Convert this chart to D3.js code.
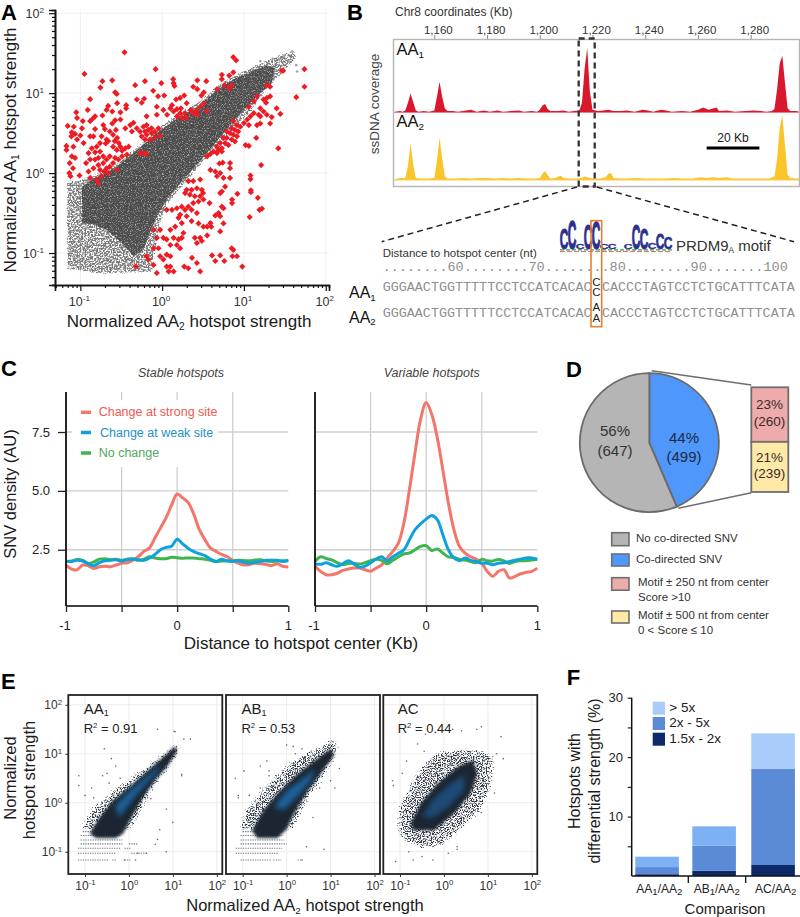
<!DOCTYPE html>
<html><head><meta charset="utf-8">
<script src="https://cdn.jsdelivr.net/npm/d3@7/dist/d3.min.js"></script>
<style>html,body{margin:0;padding:0;background:#fff}svg{display:block}text{font-family:"Liberation Sans",Arial,sans-serif}</style>
</head><body><svg id="chart" width="800" height="917"></svg>
<script>
// ---------- Panel A (log10 strengths)
const panelARedLog = [[-.46,1.51],[-.95,1.24],[-.08,1.30],[-.73,1.15],[-.61,1.16],[-.755,1.07],[-.21,1.15],[-.33,1.10],[-.01,1.125],[.135,1.175],[.14,1.125],[.15,1.09],[.43,1.16],[.54,1.15],[.38,1.08],[.43,1.05],[.51,1.01],[.48,.97],[-.11,1.03],[-.575,1.01],[-.555,.99],[-.88,.925],[-.22,.93],[-.31,.92],[-.25,.88],[-.05,.96],[.025,.97],[.27,.97],[.22,.94],[.17,.92],[.12,.85],[.10,.81],[.18,.8],[.23,.81],[.3,.875],[.35,.79],[.42,.78],[-.065,.83],
[-1.05,.76],[-1.04,.69],[-.91,.79],[-.66,.84],[-.55,.875],[-.44,.85],[-.44,.81],[-.68,.79],[-.73,.72],[-.82,.71],[-.85,.68],[-.88,.65],[-.51,.76],[-.61,.77],[-.575,.66],[-.61,.62],[-.51,.67],[-1.155,.59],[-1.08,.58],[-.97,.65],[-.98,.56],[-1.105,.51],[-1.065,.49],[-1.11,.46],[-1.0,.47],[-1.04,.42],[-1.17,.34],[-1.17,.29],[-1.085,.33],[-1.105,.21],[-1.065,.19],[-1.13,.125],[-1.09,.06],[-1.135,0],[-1.12,-.04],[-1.01,-.03],
[-.96,.375],[-.88,.46],[-.82,.55],[-.72,.6],[-.70,.55],[-.84,.46],[-.74,.46],[-.68,.42],[-.8,.33],[-.76,.375],[-.69,.37],[-.66,.4],[-.86,.31],[-.9,.25],[-.82,.26],[-.76,.27],[-.6,.48],[-.55,.44],[-.58,.4],[-.53,.375],[-.51,.33],[-.6,.33],[-.555,.29],[-.49,.28],[-.45,.31],[-.41,.33],[-.64,.52],[-.565,.54],[-.45,.56],[-.39,.6],[-.35,.63],[-.37,.52],[-.31,.56],[-.27,.52],[-.23,.58],[-.19,.6],[-.21,.52],[-.17,.54],[-.13,.56],[-.25,.46],[-.19,.48],[-.13,.5],[-.09,.52],[-.045,.56],[-.21,.42],[-.15,.42],[-.09,.44],[-.025,.47],[-.27,.25],[-.22,.25],[-.19,.24],
[-.93,.125],[-.88,.17],[-.82,.17],[-.78,.19],[-.72,.21],[-.9,.02],[-.84,.06],[-.78,.1],[-.72,.125],[-.68,.17],[-.64,.21],[-.575,.19],[-.76,.04],[-.71,.02],[-.68,.06],[-.64,.08],[-.6,.125],[-.535,.17],[-.88,-.06],[-.8,-.08],[-.78,-.125],[-.74,-.04],[-.66,0],[-.555,.04],[-.49,.21],[-.43,.23],
[.06,.73],[.14,.77],[.22,.75],[.28,.75],[.015,.79],[-.065,.73],[-.19,.71],[.465,.83],[.51,.875],[.18,.71],[.24,.69],[.3,.69],[.38,.75],[.43,.73],[.55,.77],[.67,1.05],[.73,1.23],[.73,1.175],[.76,1.1],[.82,1.06],[.87,1.45],[.905,1.41],[.87,1.26],[.82,1.22],[.85,1.1],
[1.74,1.3],[1.74,1.08],[1.64,.95],[1.465,1.28],[1.48,1.28],[1.42,.31],[1.21,.1],[1.08,-.03],[1.08,-.075],[1.085,-.215],[1.085,-.24],[1.17,-.31],[1.22,-.445],[1.19,-.46],[1.07,-.55],[1.4,.81],[1.445,.74],[1.34,.7],[1.32,.62],[1.2,.62],[1.16,.6],[1.24,.92],[1.28,.94],[1.32,.96],[1.27,.88],[1.16,.96],[1.12,.9],[1.06,.83],[1.2,.81],[1.24,.77],[1.28,.73],[1.18,.73],[1.2,.71],[1.12,.75],[1.08,.71],[1.04,.67],[1,.625],[1.06,.6],[1.15,.44],[1.06,.34],[1.02,.35],[1.28,1.1],[1.32,1.08],
[.87,.65],[.915,.6],[.955,.58],[.85,.56],[.89,.54],[.93,.52],[.79,.52],[.83,.5],[.87,.48],[.915,.46],[.75,.44],[.79,.44],[.85,.42],[.89,.395],[.71,.375],[.77,.375],[.81,.35],[.67,.33],[.73,.31],[.69,.29],[.63,.27],[.67,.25],[.59,.24],[.55,.21],[.73,.27],
[.7,.12],[.74,.13],[.83,.125],[.83,.06],[.65,.02],[.71,0],[.75,-.06],[.83,-.06],[.67,-.04],[.59,.04],[.92,-.26],[.855,-.33],[.855,-.375],[.73,-.23],[.77,-.17],[.71,-.25],[.58,-.375],[.73,-.42],[.75,-.44],[.69,-.5],[.71,-.54],[.65,-.53],[.59,-.625],[.75,-.63],[.71,-.73],[.6,-.67],[.55,-.67],
[.32,-.1],[.38,-.1],[.465,-.08],[.3,-.21],[.36,-.21],[.425,-.19],[.485,-.21],[.5,-.25],[.465,-.29],[.4,-.29],[.34,-.27],[.28,-.25],[.445,-.355],[.505,-.33],[.38,-.375],[.32,-.42],[.24,-.42],[.18,-.44],[.12,-.46],[.055,-.46],[.28,-.46],[.36,-.46],[.425,-.5],[.22,-.52],[.3,-.54],[.2,-.56],[.36,-.6],[.24,-.625],[.16,-.67],[.445,-.63],[.505,-.67],[.465,-.81],[.55,-.78],[.4,-.81],[.425,-.875],[.485,-.85],[.26,-.75],[.24,-.81],[.2,-.83],[.14,-.81],[.18,-.9],[.1,-.9],[.055,-.83],[.015,-.81],[-.065,-.81],[-.105,-.71],[-.025,-.71],[.1,-.71],[.22,-.94],
[-.32,-1.17],[-.19,-1.04],[-.17,-1.08],[-.105,-1.15],[-.065,-1.25],[-.025,-1.04],[.015,-1.08],[.055,-1.02],[.1,-1.04],[-.045,-.94],[-.105,-.94],[.055,-1.17],[.08,-1.23],[.14,-1.23],[.1,-1.17],[.27,-1.17],[.32,-1.19],[.365,-1.06],[.425,-1.125],[.465,-1.23],[.61,-1.03],[.71,-1.03],[.65,-1.1],[.76,-1.1],[.85,-.94],[.87,-.96],[.86,-1.04],[.915,-1.04],[.98,-1.17]];
const panelADense = [[-.98,-.62],[-.98,-.17],[-.85,-.08],[-.76,-.03],[-.555,.08],[-.35,.25],[-.065,.5],[.22,.71],[.465,.85],[.67,1.04],[.87,1.17],[1.08,1.27],[1.28,1.35],[1.38,1.31],[1.34,1.125],[1.2,1.0],[1.04,.83],[.87,.65],[.67,.4],[.465,.15],[.26,-.08],[.055,-.33],[-.065,-.54],[-.15,-.75],[-.23,-.96],[-.35,-1.04],[-.49,-.875],[-.68,-.71],[-.84,-.64]];
const panelASparse = [[-1.175,-.08],[-1,-.08],[-.76,.02],[-.555,.135],[-.35,.3],[-.065,.56],[.22,.77],[.465,.92],[.67,1.1],[.87,1.23],[1.08,1.33],[1.28,1.42],[1.48,1.5],[1.63,1.54],[1.65,1.44],[1.445,1.21],[1.28,1.04],[1.08,.75],[.87,.54],[.67,.31],[.465,.08],[.26,-.17],[.055,-.42],[-.025,-.67],[-.065,-.92],[-.105,-1.25],[-.76,-1.27],[-1.17,-1.21],[-1.175,-.75]];
const panelAGrayTail = [[1.49,1.47],[1.59,1.52],[1.64,1.35],[1.65,1.27],[1.43,1.43],[1.55,1.4],[1.2,1.4],[1.35,1.43],[1.1,1.3],[1.05,1.25]];

// ---------- Panel B
const kbTicks = [1160,1180,1200,1220,1240,1260,1280];
const aa1Coverage = [[1145,.01],[1147,.02],[1148,.01],[1149,.03],[1150,.14],[1151,.27],[1152,.15],[1153,.03],[1154,.01],[1156,.02],[1158,.01],[1160,.03],[1161,.22],[1162,.44],[1163,.22],[1164,.06],[1165,.02],[1167,.02],[1169,.01],[1172,.03],[1174,.04],[1176,.01],[1179,.03],[1181,.01],[1184,.03],[1186,.01],[1189,.02],[1192,.03],[1194,.01],[1197,.02],[1199,.01],[1200,.04],[1201,.1],[1202,.12],[1203,.05],[1204,.02],[1207,.02],[1209,.03],[1211,.01],[1213,.02],[1215,.03],[1216,.14],[1217,.62],[1218,.92],[1219,.3],[1220,.04],[1222,.02],[1224,.03],[1226,.04],[1228,.02],[1231,.02],[1233,.03],[1236,.01],[1239,.04],[1241,.03],[1243,.01],[1246,.04],[1248,.03],[1250,.01],[1254,.02],[1257,.01],[1260,.04],[1262,.07],[1264,.04],[1266,.06],[1267,.07],[1268,.02],[1271,.03],[1274,.01],[1278,.02],[1281,.03],[1284,.02],[1286,.01],[1288,.02],[1289,.05],[1290,.33],[1291,.7],[1292,.81],[1293,.42],[1294,.06],[1295,.02],[1297,.02],[1299,.01]];
const aa2Coverage = [[1145,.01],[1147,.03],[1149,.03],[1150,.2],[1151,.53],[1152,.22],[1153,.03],[1155,.02],[1158,.02],[1160,.03],[1161,.28],[1162,.61],[1163,.3],[1164,.05],[1165,.02],[1168,.02],[1171,.03],[1174,.02],[1177,.03],[1180,.03],[1183,.02],[1186,.03],[1189,.02],[1192,.03],[1195,.02],[1198,.02],[1200,.03],[1201,.09],[1202,.13],[1203,.07],[1204,.02],[1206,.03],[1207,.05],[1208,.06],[1209,.03],[1211,.02],[1214,.02],[1216,.03],[1217,.05],[1218,.04],[1220,.02],[1223,.02],[1225,.04],[1226,.09],[1227,.1],[1228,.03],[1230,.02],[1233,.02],[1236,.03],[1240,.02],[1244,.02],[1248,.02],[1251,.03],[1254,.02],[1258,.02],[1261,.04],[1263,.03],[1266,.04],[1268,.03],[1271,.04],[1273,.02],[1276,.02],[1280,.02],[1284,.02],[1287,.02],[1289,.05],[1290,.3],[1291,.75],[1292,.92],[1293,.5],[1294,.08],[1295,.03],[1297,.02],[1299,.02]];
const motifHeights = [[0,.72,"C"],[1,1,"C"],[2,.2,"c"],[3,.85,"C"],[4,.95,"C"],[5,.2,"c"],[6,.18,"c"],[8,.16,"c"],[9,.85,"C"],[10,.72,"C"],[11,.22,"c"],[12,.55,"C"],[13,.4,"C"]];
const rulerText = "........60........70........80........90.......100";
const seqLeft = "GGGAACTGGTTTTTCCTCCATCACAC";
const seqRight = "CACCCTAGTCCTCTGCATTTCATA";

// ---------- Panel C
const snvX = [-1,-.95,-.9,-.85,-.8,-.75,-.7,-.65,-.6,-.55,-.5,-.45,-.4,-.35,-.3,-.25,-.2,-.15,-.1,-.05,0,.05,.1,.15,.2,.25,.3,.35,.4,.45,.5,.55,.6,.65,.7,.75,.8,.85,.9,.95,1];
const stableStrong = [1.85,1.68,1.65,1.85,1.82,1.7,1.78,1.8,1.78,1.85,1.92,1.95,2.05,2.2,2.43,2.57,3.0,3.42,3.85,4.4,4.87,4.7,4.5,4.0,3.35,2.93,2.57,2.43,2.3,2.2,2.05,1.93,1.85,1.87,1.93,1.9,1.87,1.83,1.9,1.8,1.77];
const stableWeak = [2.0,2.0,2.05,2.02,1.9,1.82,1.95,2.03,2.05,2.07,2.02,2.08,2.1,2.07,2.05,2.15,2.3,2.5,2.6,2.65,2.95,2.75,2.55,2.42,2.33,2.25,2.1,2.0,2.1,2.03,2.0,2.03,1.97,1.93,1.97,2.0,2.05,2.05,2.05,2.0,2.05];
const stableNone = [2.0,2.02,2.08,2.05,1.92,1.98,2.1,2.12,2.08,2.1,2.05,2.1,2.12,2.05,2.1,2.2,2.15,2.12,2.12,2.18,2.16,2.14,2.15,2.15,2.12,2.1,2.05,2.0,2.02,2.02,2.03,2.05,2.04,2.03,2.06,2.07,2.02,2.0,2.02,2.03,2.03];
const variableStrong = [1.79,1.58,1.44,1.44,1.5,1.62,1.68,1.72,1.72,1.65,1.59,1.72,1.86,2.15,2.43,2.78,3.64,5.06,6.62,8.04,8.75,8.25,7.26,5.9,4.49,3.35,2.64,2.36,2.2,2.1,1.93,1.58,1.37,1.58,1.65,1.3,1.37,1.48,1.54,1.58,1.72];
const variableWeak = [1.9,1.88,1.95,1.86,1.8,1.9,2.03,1.9,1.76,1.8,1.95,2.1,2.2,2.03,2.2,2.35,2.5,2.93,3.35,3.6,3.8,3.95,3.78,3.14,2.5,2.15,2.03,2.15,2.05,2.0,1.93,1.93,1.86,1.93,1.95,2.0,2.05,2.1,2.15,2.15,2.1];
const variableNone = [2.0,2.2,2.13,2.07,1.95,1.87,1.92,1.92,1.89,1.95,2.03,2.1,2.05,1.9,2.05,2.2,2.33,2.36,2.5,2.64,2.67,2.47,2.53,2.36,2.2,2.17,2.09,2.06,2.0,1.95,2.09,2.03,2.02,2.09,2.03,1.92,2.0,2.03,2.03,2.06,2.09];
const snvLegend = ["Change at strong site","Change at weak site","No change"];

// ---------- Panel D
const pieValues = [499,647];
const pieCounts = ["44%|(499)","56%|(647)"];
const breakdownValues = [260,239];
const breakdownLabels = ["23%|(260)","21%|(239)"];

// ---------- Panel E (log10)
const eNames = ["AA1","AB1","AC"];
const eR2 = ["0.91","0.53","0.44"];
const eHalo = [
 [[-1.1,-.45],[-.9,-.1],[-.59,.15],[-.28,.38],[.1,.62],[.48,.86],[.86,1.1],[1.09,1.28],[1.3,1.3],[1.15,.98],[.9,.63],[.6,.28],[.38,-.12],[.15,-.5],[0,-.62],[-1.1,-.62]],
 [[-1.15,-.6],[-1.02,-.15],[-.75,.12],[-.46,.44],[-.08,.78],[.32,1.03],[.7,1.17],[.97,1.33],[1.25,1.33],[1.17,.94],[.9,.5],[.6,.15],[.37,-.26],[.17,-.6],[-1.1,-.62]],
 [[-1.12,-.6],[-1.08,-.1],[-.8,.42],[-.57,.75],[-.17,1.08],[.38,1.16],[1.05,1.08],[1.22,.85],[1.12,.3],[.88,-.18],[.4,-.6],[0,-.92],[-.53,-.98],[-.98,-.8]]];
const eDense = [
 [[-.89,-.63],[-.66,-.29],[-.36,.05],[.1,.39],[.48,.7],[.79,.94],[1.05,1.16],[1.09,1.04],[.86,.73],[.63,.5],[.33,.12],[.06,-.29],[-.13,-.63],[-.3,-.72],[-.75,-.72]],
 [[-.79,-.56],[-.52,-.15],[-.21,.19],[.17,.53],[.55,.8],[1.01,1.11],[1.08,.97],[.78,.6],[.47,.22],[.21,-.15],[-.02,-.56],[-.21,-.72],[-.67,-.72]],
 [[-.76,-.42],[-.53,-.01],[-.15,.39],[.31,.73],[.65,.88],[.76,.6],[.61,.19],[.23,-.22],[-.23,-.56],[-.69,-.56]]];
const eCore = [
 [[-.32,-.08],[-.02,.22],[.4,.53],[.71,.77],[.63,.6],[.33,.33],[.02,-.01],[-.21,-.29]],
 [[-.29,-.08],[.02,.26],[.47,.56],[.66,.7],[.55,.46],[.24,.12],[-.06,-.15]],
 [[-.5,-.29],[-.27,.05],[.15,.39],[.46,.56],[.46,.26],[.11,-.08],[-.23,-.29]]];
const eRows = [
 [[-1.17,-1.16,-.45],[-1.17,-.38,-.3],[-1.17,-.1,.05],[-1.03,-1.16,-.3],[-1.03,.05,.4],[-.93,-1.16,-.2],[-.93,-.1,.05],[-.84,-1.1,-.15],[-.84,.0,.2],[-.76,-1.1,-.15],[-.67,-1.1,-.2],[-.59,-1.05,-.3]],
 [[-1.17,-1.05,-.35],[-1.17,-.3,-.12],[-1.17,.25,.35],[-1.03,-1.16,-.2],[-.93,-1.16,-.1],[-.84,-1.05,0],[-.76,-1.05,-.05],[-.67,-1.05,-.1],[-.59,-1,-.1]],
 []];
const eOutliers = [
 [[-1.14,.55],[-1.14,.35],[-.56,1.1],[-.4,.9],[.65,1.5],[1.03,1.46],[-.85,.3],[-.6,.55],[-.5,.6],[-.3,.75],[.5,.08],[.7,-.55],[.85,-.13],[1.0,-.4],[1.2,.58],[1.2,.55],[.6,-.85],[.65,-.75],[.85,-1.0],[.4,-1.03],[.2,-1.03],[.15,-1.17],[-.1,-1.17],[-1,.15],[-.8,.1],[-.45,.4],[-.2,.5],[1.05,1.45],[1.25,1.3],[1.4,1.3]],
 [[-1.17,.5],[-1.1,.15],[-.97,.65],[-.6,.75],[-.45,.85],[0,1.18],[.15,1.15],[.35,1.1],[-.4,.55],[.15,.8],[.2,1.0],[1.1,1.05],[1.2,.7],[1.1,.3],[.6,-.3],[.45,-.9],[.85,-.95],[.35,-1.17],[-1.1,.1],[-.85,.15],[.75,.3],[1.0,.45],[-.4,.65],[-.6,.3]],
 [[-1.17,.45],[-1.15,.35],[-.85,.85],[-.95,.6],[-.6,1.2],[-.45,1.05],[-.42,1.4],[.2,1.5],[.4,1.47],[.75,1.5],[.85,1.55],[1.3,1.35],[1.2,1.0],[1.35,.9],[.3,-.9],[.3,-.95],[-.7,-1.17],[-1.1,-1.2],[-.5,-1.1],[-.25,-1.17],[-.8,-1],[.1,-1.03],[1.15,.2],[.85,-.2]]];
const eDecades = [-1,0,1,2];

// ---------- Panel F
const fCategories = ["AA1/AA2","AB1/AA2","AC/AA2"];
const fKeys = ["1.5x - 2x","2x - 5x","> 5x"];
const fLow = [.3,.9,1.85];
const fMid = [1.2,4.2,16.15];
const fHigh = [1.75,3.26,6.0];
const fTicks = [10,20,30];

// ---------- drawing
const svg = d3.select("#chart");
const defs = svg.append("defs");
function speckleFilter(id, light, slope, off, blur){
  const f = defs.append("filter").attr("id",id).attr("x","-5%").attr("y","-5%").attr("width","110%").attr("height","110%").attr("color-interpolation-filters","sRGB");
  f.append("feTurbulence").attr("type","fractalNoise").attr("baseFrequency",.85).attr("numOctaves",2).attr("seed",7).attr("result","n");
  f.append("feColorMatrix").attr("in","n").attr("type","matrix")
   .attr("values",`0 0 0 0 ${light} 0 0 0 0 ${light} 0 0 0 0 ${light} ${slope} 0 0 0 ${off}`).attr("result","sp");
  f.append("feGaussianBlur").attr("in","SourceGraphic").attr("stdDeviation",blur).attr("result","b");
  f.append("feComposite").attr("in","sp").attr("in2","b").attr("operator","in").attr("result","clip");
  const m=f.append("feMerge"); m.append("feMergeNode").attr("in","b"); m.append("feMergeNode").attr("in","clip");
}
function fadeDots(id,color,blur,thr,slope,freq){
  const f = defs.append("filter").attr("id",id).attr("x","-15%").attr("y","-15%").attr("width","130%").attr("height","130%").attr("color-interpolation-filters","sRGB");
  f.append("feTurbulence").attr("type","fractalNoise").attr("baseFrequency",freq).attr("numOctaves",2).attr("seed",11).attr("result","n");
  f.append("feColorMatrix").attr("in","n").attr("type","matrix").attr("values","0 0 0 0 1 0 0 0 0 1 0 0 0 0 1 1 0 0 0 0").attr("result","na");
  f.append("feGaussianBlur").attr("in","SourceAlpha").attr("stdDeviation",blur).attr("result","b");
  f.append("feComposite").attr("in","na").attr("in2","b").attr("operator","arithmetic").attr("k1",1).attr("k2",0).attr("k3",0).attr("k4",0).attr("result","m");
  f.append("feComponentTransfer").attr("in","m").attr("result","t").append("feFuncA").attr("type","linear").attr("slope",slope).attr("intercept",-slope*thr);
  f.append("feFlood").attr("flood-color",color).attr("result","c");
  f.append("feComposite").attr("in","c").attr("in2","t").attr("operator","in");
}
speckleFilter("speckA",.74,3,-1.5,.6);
fadeDots("dotsA","#7a7a7a",1.6,.37,5,.6);
fadeDots("dotsE","#2f3845",3.5,.45,6,.8);
const blurF = defs.append("filter").attr("id","blur2"); blurF.append("feGaussianBlur").attr("stdDeviation",2.4);
const blurG = defs.append("filter").attr("id","blur1"); blurG.append("feGaussianBlur").attr("stdDeviation",1.4);

function label(g,x,y,parts,o={}){
  const size=o.size||12;
  const t = g.append("text").attr("x",x).attr("y",y).attr("font-size",size).attr("fill",o.fill||"#1a1a1a")
    .attr("text-anchor",o.anchor||"start").attr("font-weight",o.weight||null).attr("font-style",o.italic?"italic":null);
  if(o.rotate) t.attr("transform",`rotate(-90 ${x} ${y})`);
  let pending=0;
  (Array.isArray(parts)?parts:[parts]).forEach(p=>{
    if(typeof p==="string"){ const s=t.append("tspan").text(p); if(pending){s.attr("dy",pending);pending=0;} }
    else { const shift = p.sup ? -size*.38 : size*.16;
      t.append("tspan").attr("dy",shift+pending).attr("font-size",size*(p.scale||.6)).text(p.t);
      pending=-shift;
    }
  });
  return t;
}
function subName(name){ const m=name.match(/^([A-Z]+)(\d)$/); return m?[m[1],{t:m[2]}]:[name]; }
// panel letters
[["A",1,20],["B",347,20],["C",1,376],["D",566,377],["E",1,689],["F",566.7,685]].forEach(d=>
  label(svg,d[1],d[2],d[0],{size:22,weight:"bold",fill:"#000"}));

const decadeMinor = d3.range(-2,2).flatMap(e=>[2,3,4,5,6,7,8,9].map(k=>k*10**e));

// ---- Panel A
(function(){
  const x = d3.scaleLog().domain([10**-1.31,10**2.04]).range([55,329]);
  const y = d3.scaleLog().domain([10**-1.40,10**2.04]).range([285,10]);
  const g = svg.append("g");
  [.1,1,10,100].forEach(v=>{
    g.append("line").attr("x1",x(v)).attr("x2",x(v)).attr("y1",10).attr("y2",285).attr("stroke","#efefef");
    g.append("line").attr("y1",y(v)).attr("y2",y(v)).attr("x1",55).attr("x2",329).attr("stroke","#efefef");
  });
  const poly = d3.line().x(d=>x(10**d[0])).y(d=>y(10**d[1]));
  g.append("path").attr("d",poly(panelASparse)+"Z").attr("fill","#000").attr("filter","url(#dotsA)");
  g.append("path").attr("d",poly(panelADense)+"Z").attr("fill","#4c4c4c").attr("filter","url(#speckA)");
  g.selectAll(".tail").data(panelAGrayTail).join("circle").attr("cx",d=>x(10**d[0])).attr("cy",d=>y(10**d[1])).attr("r",1.3).attr("fill","#a5a5a5");
  const diamond = d3.symbol().type(d3.symbolSquare).size(19);
  g.selectAll(".red").data(panelARedLog).join("path").attr("d",diamond)
    .attr("transform",d=>`translate(${x(10**d[0])},${y(10**d[1])}) rotate(45)`).attr("fill","#ed1c24");
  // axes
  const ax = g.append("g").attr("transform","translate(0,285)");
  ax.call(d3.axisBottom(x).tickValues(decadeMinor.filter(v=>x.domain()[0]<=v&&v<=x.domain()[1])).tickFormat("").tickSize(3));
  const ax2 = g.append("g").attr("transform","translate(0,285)").call(d3.axisBottom(x).tickValues([.1,1,10,100]).tickFormat("").tickSize(6));
  const ay = g.append("g").attr("transform","translate(55,0)");
  ay.call(d3.axisLeft(y).tickValues(decadeMinor.filter(v=>y.domain()[0]<=v&&v<=y.domain()[1])).tickFormat("").tickSize(3));
  const ay2 = g.append("g").attr("transform","translate(55,0)").call(d3.axisLeft(y).tickValues([.1,1,10,100]).tickFormat("").tickSize(6));
  [ax,ax2,ay,ay2].forEach(a=>{a.selectAll("path").attr("stroke","#111").attr("stroke-width",1.6);a.selectAll("line").attr("stroke","#111").attr("stroke-width",1.2);});
  [-1,0,1,2].forEach(e=>{
    label(g,x(10**e)-1,306,["10",{t:String(e),sup:1,scale:.65}],{size:12.5,anchor:"middle",fill:"#333"});
    label(g,44,y(10**e)+5,["10",{t:String(e),sup:1,scale:.65}],{size:12.5,anchor:"end",fill:"#333"});
  });
  label(g,189,327,["Normalized AA",{t:"2"}," hotspot strength"],{size:17,anchor:"middle"});
  label(g,16,150,["Normalized AA",{t:"1"}," hotspot strength"],{size:17,anchor:"middle",rotate:1});
})();

// ---- Panel B
(function(){
  const x = d3.scaleLinear().domain([1160,1280]).range([434.3,750.7]);
  const cov = d3.scaleLinear().domain([0,1]).range([0,70]);
  const g = svg.append("g");
  label(g,395,16,"Chr8 coordinates (Kb)",{size:12,fill:"#333"});
  const axisG = g.append("g").attr("transform","translate(0,39)")
    .call(d3.axisTop(x).tickValues(kbTicks).tickFormat("").tickSize(4));
  axisG.select("path").remove(); axisG.selectAll("line").attr("stroke","#888");
  kbTicks.forEach(k=>label(g,x(k)+4,34,d3.format(",")(k),{size:11.5,anchor:"middle",fill:"#333"}));
  function track(data,base,fill,line){
    const a = d3.area().x(d=>x(d[0])).y0(base).y1(d=>base-cov(d[1]));
    g.append("path").attr("d",a(data)).attr("fill",fill);
    g.append("line").attr("x1",393).attr("x2",800).attr("y1",base).attr("y2",base).attr("stroke",line).attr("stroke-width",1);
  }
  track(aa1Coverage,112.5,"#d9182d","#ee7b88");
  track(aa2Coverage,180,"#f9c52b","#f9cf55");
  g.append("rect").attr("x",393.5).attr("y",39.5).attr("width",406).attr("height",147).attr("fill","none").attr("stroke","#b5b5b5").attr("stroke-width",1.4);
  label(g,396.5,55,subName("AA1"),{size:16.5,fill:"#111"});
  label(g,396.5,127,subName("AA2"),{size:16.5,fill:"#111"});
  label(g,379,104,"ssDNA coverage",{size:13.5,anchor:"middle",rotate:1,fill:"#444"});
  label(g,733,142,"20 Kb",{size:12,anchor:"middle"});
  g.append("line").attr("x1",x(1263.3)).attr("x2",x(1283.3)).attr("y1",148).attr("y2",148).attr("stroke","#000").attr("stroke-width",3);
  // zoom box and guides
  g.append("rect").attr("x",578.7).attr("y",38.5).attr("width",16).attr("height",148).attr("fill","none").attr("stroke","#333").attr("stroke-width",2.3).attr("stroke-dasharray","6 4");
  [[577,187,381.7,241.7],[596.7,187,794,241.7]].forEach(l=>g.append("line").attr("x1",l[0]).attr("y1",l[1]).attr("x2",l[2]).attr("y2",l[3]).attr("stroke","#222").attr("stroke-width",1.5).attr("stroke-dasharray","6 4"));
  // logo
  const mx = d3.scaleLinear().domain([0,13]).range([564,668]);
  const mh = d3.scaleLinear().domain([0,1]).range([0,29]);
  motifHeights.forEach(d=>{
    g.append("text").attr("text-anchor","middle").attr("font-size",10).attr("font-weight","bold").attr("fill","#2b2f8e")
      .attr("stroke","#2b2f8e").attr("stroke-width",.35).text("C")
      .attr("transform",`translate(${mx(d[0])},248.5) scale(1.2,${mh(d[1])/7.2})`);
  });
  g.append("line").attr("x1",560).attr("x2",672).attr("y1",249.8).attr("y2",249.8).attr("stroke","#27a34e").attr("stroke-width",1.3).attr("stroke-dasharray","4 2");
  g.append("line").attr("x1",560).attr("x2",672).attr("y1",251.6).attr("y2",251.6).attr("stroke","#e2574c").attr("stroke-width",.9).attr("stroke-dasharray","5 2");
  label(g,676,251,["PRDM9",{t:"A",scale:.55}," motif"],{size:15,fill:"#333"});
  label(g,382.7,257,"Distance to hotspot center (nt)",{size:11.5,fill:"#333"});
  const mono = t=>t.style("font-family",'"Liberation Mono",monospace');
  mono(label(g,382.7,271,rulerText,{size:13.5,fill:"#8f8f8f"}));
  [[seqLeft,382.7],[seqRight,601.9]].forEach(s=>{
    mono(label(g,s[1],291,s[0],{size:13.4,fill:"#8f8f8f"}));
    mono(label(g,s[1],316.7,s[0],{size:13.4,fill:"#8f8f8f"}));
  });
  [["C",285.5],["C",296],["A",311],["A",321.8]].forEach(d=>label(g,596.3,d[1],d[0],{size:11.5,anchor:"middle",fill:"#222"}));
  g.append("rect").attr("x",591).attr("y",220.7).attr("width",10.7).attr("height",106).attr("fill","none").attr("stroke","#e97f2e").attr("stroke-width",1.6);
  label(g,349,298,subName("AA1"),{size:16,fill:"#111"});
  label(g,349,322.5,subName("AA2"),{size:16,fill:"#111"});
})();

// ---- Panel C
(function(){
  const y = d3.scaleLinear().domain([.11,9.2]).range([606,392]);
  const colors = ["#f2766b","#0ea2dd","#3fb44f"];
  const textColors = ["#ef5a50","#2491c6","#4fa85c"];
  [[66,288.3,[stableStrong,stableWeak,stableNone],"Stable hotspots",181],[315,537.3,[variableStrong,variableWeak,variableNone],"Variable hotspots",431.7]].forEach((p,pi)=>{
    const x = d3.scaleLinear().domain([-1,1]).range([p[0],p[1]]);
    const g = svg.append("g");
    [-.5,0,.5].forEach(v=>g.append("line").attr("x1",x(v)).attr("x2",x(v)).attr("y1",392).attr("y2",606).attr("stroke","#cfcfcf").attr("stroke-width",1.3));
    [2.5,5,7.5].forEach(v=>g.append("line").attr("x1",p[0]).attr("x2",p[1]).attr("y1",y(v)).attr("y2",y(v)).attr("stroke","#cfcfcf").attr("stroke-width",1.3));
    if(pi===0) g.append("rect").attr("x",72).attr("y",400).attr("width",146).attr("height",67).attr("fill","#fff");
    const line = d3.line().x((d,i)=>x(snvX[i])).y(d=>y(d)).curve(d3.curveCatmullRom.alpha(.5));
    [0,2,1].forEach(i=>g.append("path").attr("d",line(p[2][i])).attr("fill","none").attr("stroke",colors[i]).attr("stroke-width",3).attr("stroke-linejoin","round"));
    const ax = g.append("g").attr("transform","translate(0,606)").call(d3.axisBottom(x).tickValues([-1,-.5,0,.5,1]).tickFormat("").tickSize(6));
    ax.select("path").attr("stroke","#000").attr("stroke-width",1.7).attr("d",`M${p[0]},0H${p[1]}`);
    ax.selectAll("line").attr("stroke","#222").attr("stroke-width",1.3);
    g.append("line").attr("x1",p[0]).attr("x2",p[0]).attr("y1",392).attr("y2",606).attr("stroke","#000").attr("stroke-width",1.7);
    [-1,0,1].forEach(v=>label(g,x(v)-(v===-1?1:0),630,String(v),{size:13,anchor:"middle",fill:"#222"}));
    label(g,p[4],377,p[3],{size:12.5,italic:1,anchor:"middle",fill:"#444"});
    if(pi===0){
      const ay = g.append("g").attr("transform","translate(66,0)").call(d3.axisLeft(y).tickValues([2.5,5,7.5]).tickFormat("").tickSize(8));
      ay.select("path").remove(); ay.selectAll("line").attr("stroke","#222").attr("stroke-width",1.3);
      [2.5,5,7.5].forEach(v=>label(g,50,y(v)+4.5,d3.format(".1f")(v),{size:13,anchor:"end",fill:"#222"}));
      snvLegend.forEach((t,i)=>{
        const ly=[412.3,432.5,453][i];
        g.append("line").attr("x1",81).attr("x2",91).attr("y1",ly).attr("y2",ly).attr("stroke",colors[i]).attr("stroke-width",3.5);
        label(g,[98.7,100,98.7][i],ly+4,t,{size:12.5,fill:textColors[i]});
      });
    }
  });
  label(svg,301,649,"Distance to hotspot center (Kb)",{size:17,anchor:"middle"});
  label(svg,16,494,"SNV density (AU)",{size:16.5,anchor:"middle",rotate:1});
})();

// ---- Panel D
(function(){
  const g = svg.append("g");
  const pie = d3.pie().sort(null).value(d=>d)(pieValues);
  const arc = d3.arc().innerRadius(0).outerRadius(69.5);
  const colors = ["#5097fb","#b5b5b5"];
  const c = g.append("g").attr("transform","translate(649.3,442.7)");
  c.selectAll("path").data(pie).join("path").attr("d",arc).attr("fill",(d,i)=>colors[i]).attr("stroke","#6b6b6b").attr("stroke-width",1.8);
  [[651.7,370.7,751.3,385],[678.3,508.3,751.3,492.7]].forEach(l=>g.append("line").attr("x1",l[0]).attr("y1",l[1]).attr("x2",l[2]).attr("y2",l[3]).attr("stroke","#6e6e6e").attr("stroke-width",1.4));
  const sy = d3.scaleLinear().domain([0,d3.sum(breakdownValues)]).range([387.3,492]);
  let acc=0;
  const barColors=["#eeabab","#fee9a6"];
  breakdownValues.forEach((v,i)=>{
    g.append("rect").attr("x",751.3).attr("width",37).attr("y",sy(acc)).attr("height",sy(v)-sy(0)).attr("fill",barColors[i]).attr("stroke","#6e6e6e").attr("stroke-width",1.8);
    const [a,b]=breakdownLabels[i].split("|");
    const by=[409,461.7][i];
    label(g,769.5,by,a,{size:13.5,anchor:"middle",fill:"#3a2a2a"});
    label(g,769.5,by+16.7,b,{size:13.5,anchor:"middle",fill:"#3a2a2a"});
    acc+=v;
  });
  pieCounts.forEach((s,i)=>{
    const [a,b]=s.split("|");
    const p = i===0?[684,442.7,461.7,"#1b2a44"]:[615,436,456,"#333"];
    label(g,p[0],p[1],a,{size:15,anchor:"middle",fill:p[3]});
    label(g,p[0],p[2],b,{size:15,anchor:"middle",fill:p[3]});
  });
  [[532.7,13,"#b5b5b5"],[554,12,"#5097fb"],[577.7,12.5,"#eeabab"],[611,12,"#fee9a6"]].forEach(s=>
    g.append("rect").attr("x",611.7).attr("y",s[0]).attr("width",17.3).attr("height",s[1]).attr("fill",s[2]).attr("stroke","#6e6e6e").attr("stroke-width",1.6));
  [[636,541.7,"No co-directed SNV"],[636,562.7,"Co-directed SNV"],[638,585.7,"Motif ± 250 nt from center"],[638,600.7,"Score >10"],[638,619,"Motif ± 500 nt from center"],[638,634,"0 < Score ≤ 10"]].forEach(d=>
    label(g,d[0],d[1],d[2],{size:11.5,fill:"#333"}));
})();

// ---- Panel E
(function(){
  const offs=[0,157.7,315];
  eNames.forEach((name,i)=>{
    const o=offs[i];
    const g=svg.append("g");
    const left=68.3+o, right=222.3+o;
    const x=d3.scaleLog().domain([10**-1.38,10**2.125]).range([left,right]);
    const y=d3.scaleLog().domain([10**-1.455,10**2.2]).range([874,695]);
    [.1,1,10,100].forEach(v=>{
      g.append("line").attr("x1",x(v)).attr("x2",x(v)).attr("y1",695).attr("y2",874).attr("stroke","#ececec");
      g.append("line").attr("x1",left).attr("x2",right).attr("y1",y(v)).attr("y2",y(v)).attr("stroke","#ececec");
    });
    const poly=d3.line().x(d=>x(10**d[0])).y(d=>y(10**d[1]));
    g.append("path").attr("d",poly(eHalo[i])+"Z").attr("fill","#000").attr("filter","url(#dotsE)");
    eRows[i].forEach(r=>g.append("line").attr("x1",x(10**r[1])).attr("x2",x(10**r[2])).attr("y1",y(10**r[0])).attr("y2",y(10**r[0]))
      .attr("stroke","#39424d").attr("stroke-width",1.1).attr("stroke-dasharray","1.3 1.1").attr("opacity",.7));
    g.append("path").attr("d",poly(eDense[i])+"Z").attr("fill","#1b2530").attr("filter","url(#blur1)");
    g.append("path").attr("d",poly(eCore[i])+"Z").attr("fill",i===2?"#1d4a76":"#1d5f98").attr("filter","url(#blur2)");
    g.selectAll(".o").data(eOutliers[i]).join("circle").attr("cx",d=>x(10**d[0])).attr("cy",d=>y(10**d[1])).attr("r",.8).attr("fill","#666");
    g.append("rect").attr("x",left).attr("y",695).attr("width",right-left).attr("height",179).attr("fill","none").attr("stroke","#222").attr("stroke-width",1.8);
    const ax=g.append("g").attr("transform","translate(0,874)").call(d3.axisBottom(x).tickValues([.1,1,10,100]).tickFormat("").tickSize(3));
    ax.select("path").remove(); ax.selectAll("line").attr("stroke","#333");
    eDecades.forEach(e=>label(g,x(10**e)+.5,890,["10",{t:String(e),sup:1,scale:.65}],{size:12,anchor:"middle",fill:"#333"}));
    if(i===0){
      const ay=g.append("g").attr("transform",`translate(${left},0)`).call(d3.axisLeft(y).tickValues([.1,1,10,100]).tickFormat("").tickSize(3));
      ay.select("path").remove(); ay.selectAll("line").attr("stroke","#333");
      eDecades.forEach(e=>label(g,62,y(10**e)+4.5,["10",{t:String(e),sup:1,scale:.65}],{size:12,anchor:"end",fill:"#333"}));
    }
    label(g,83.7+o-(i===2?1:0),714,subName(name),{size:15,fill:"#222"});
    label(g,83.7+o-(i===2?1:0),733,["R",{t:"2",sup:1,scale:.6}," = "+eR2[i]],{size:13,fill:"#222"});
  });
  label(svg,305,911,["Normalized AA",{t:"2"}," hotspot strength"],{size:16.5,anchor:"middle"});
  label(svg,16,778,"Normalized",{size:16.5,anchor:"middle",rotate:1});
  label(svg,35,780,"hotspot strength",{size:16.5,anchor:"middle",rotate:1});
})();

// ---- Panel F
(function(){
  const g=svg.append("g");
  const y=d3.scaleLinear().domain([0,30]).range([876,697.7]);
  const series=d3.stack().keys([0,1,2]).value((d,k)=>d[k])(fCategories.map((c,i)=>[fLow[i],fMid[i],fHigh[i]]));
  const topColor=i=>i===2?"#a9ccfb":"#7eb0f4";
  const colors=["#0d2a66","#5b8ad6"];
  const bars=[635.3,692.3,751.3];
  series.forEach((s,si)=>{
    s.forEach((d,i)=>g.append("rect").attr("x",bars[i]).attr("width",43.6).attr("y",y(d[1])).attr("height",y(d[0])-y(d[1]))
      .attr("fill",si===2?topColor(i):colors[si]));
  });
  const ay=g.append("g").attr("transform","translate(631.7,0)").call(d3.axisLeft(y).tickValues([5,10,15,20,25,30]).tickFormat("").tickSize(4));
  ay.select("path").attr("stroke","#111").attr("stroke-width",1.5).attr("d","M0,876V697.7");
  ay.selectAll("line").attr("stroke","#111").attr("stroke-width",1.1);
  fTicks.forEach(v=>label(g,623,y(v)+4.5,String(v),{size:13,anchor:"end",fill:"#222"}));
  g.append("line").attr("x1",631.7).attr("x2",800).attr("y1",876).attr("y2",876).attr("stroke","#111").attr("stroke-width",1.5);
  [688.3,745.7].forEach(v=>g.append("line").attr("x1",v).attr("x2",v).attr("y1",876).attr("y2",883).attr("stroke","#111").attr("stroke-width",1.3));
  const fcx=[659.3,716.7,775.7];
  fCategories.forEach((c,i)=>{
    const m=c.match(/^([A-Z]+)(\d?)\/AA2$/);
    const parts=m[2]?[m[1],{t:m[2],scale:.8},"/AA",{t:"2",scale:.8}]:[m[1]+"/AA",{t:"2",scale:.8}];
    label(g,fcx[i],893,parts,{size:12,anchor:"middle",fill:"#222"});
  });
  label(g,725,914,"Comparison",{size:15,anchor:"middle"});
  label(g,580,781,"Hotspots with",{size:16,anchor:"middle",rotate:1});
  label(g,600,781,"differential strength (%)",{size:16,anchor:"middle",rotate:1});
  const lc=["#a9ccfb","#5b8ad6","#0d2a66"];
  ["> 5x","2x - 5x","1.5x - 2x"].forEach((t,i)=>{
    g.append("rect").attr("x",652.7).attr("width",12.3).attr("y",[701.7,717,732.7][i]).attr("height",13).attr("fill",lc[i]);
    label(g,669.3,[711.7,727.3,743.3][i],t,{size:13.5,fill:"#222"});
  });
})();
</script></body></html>
